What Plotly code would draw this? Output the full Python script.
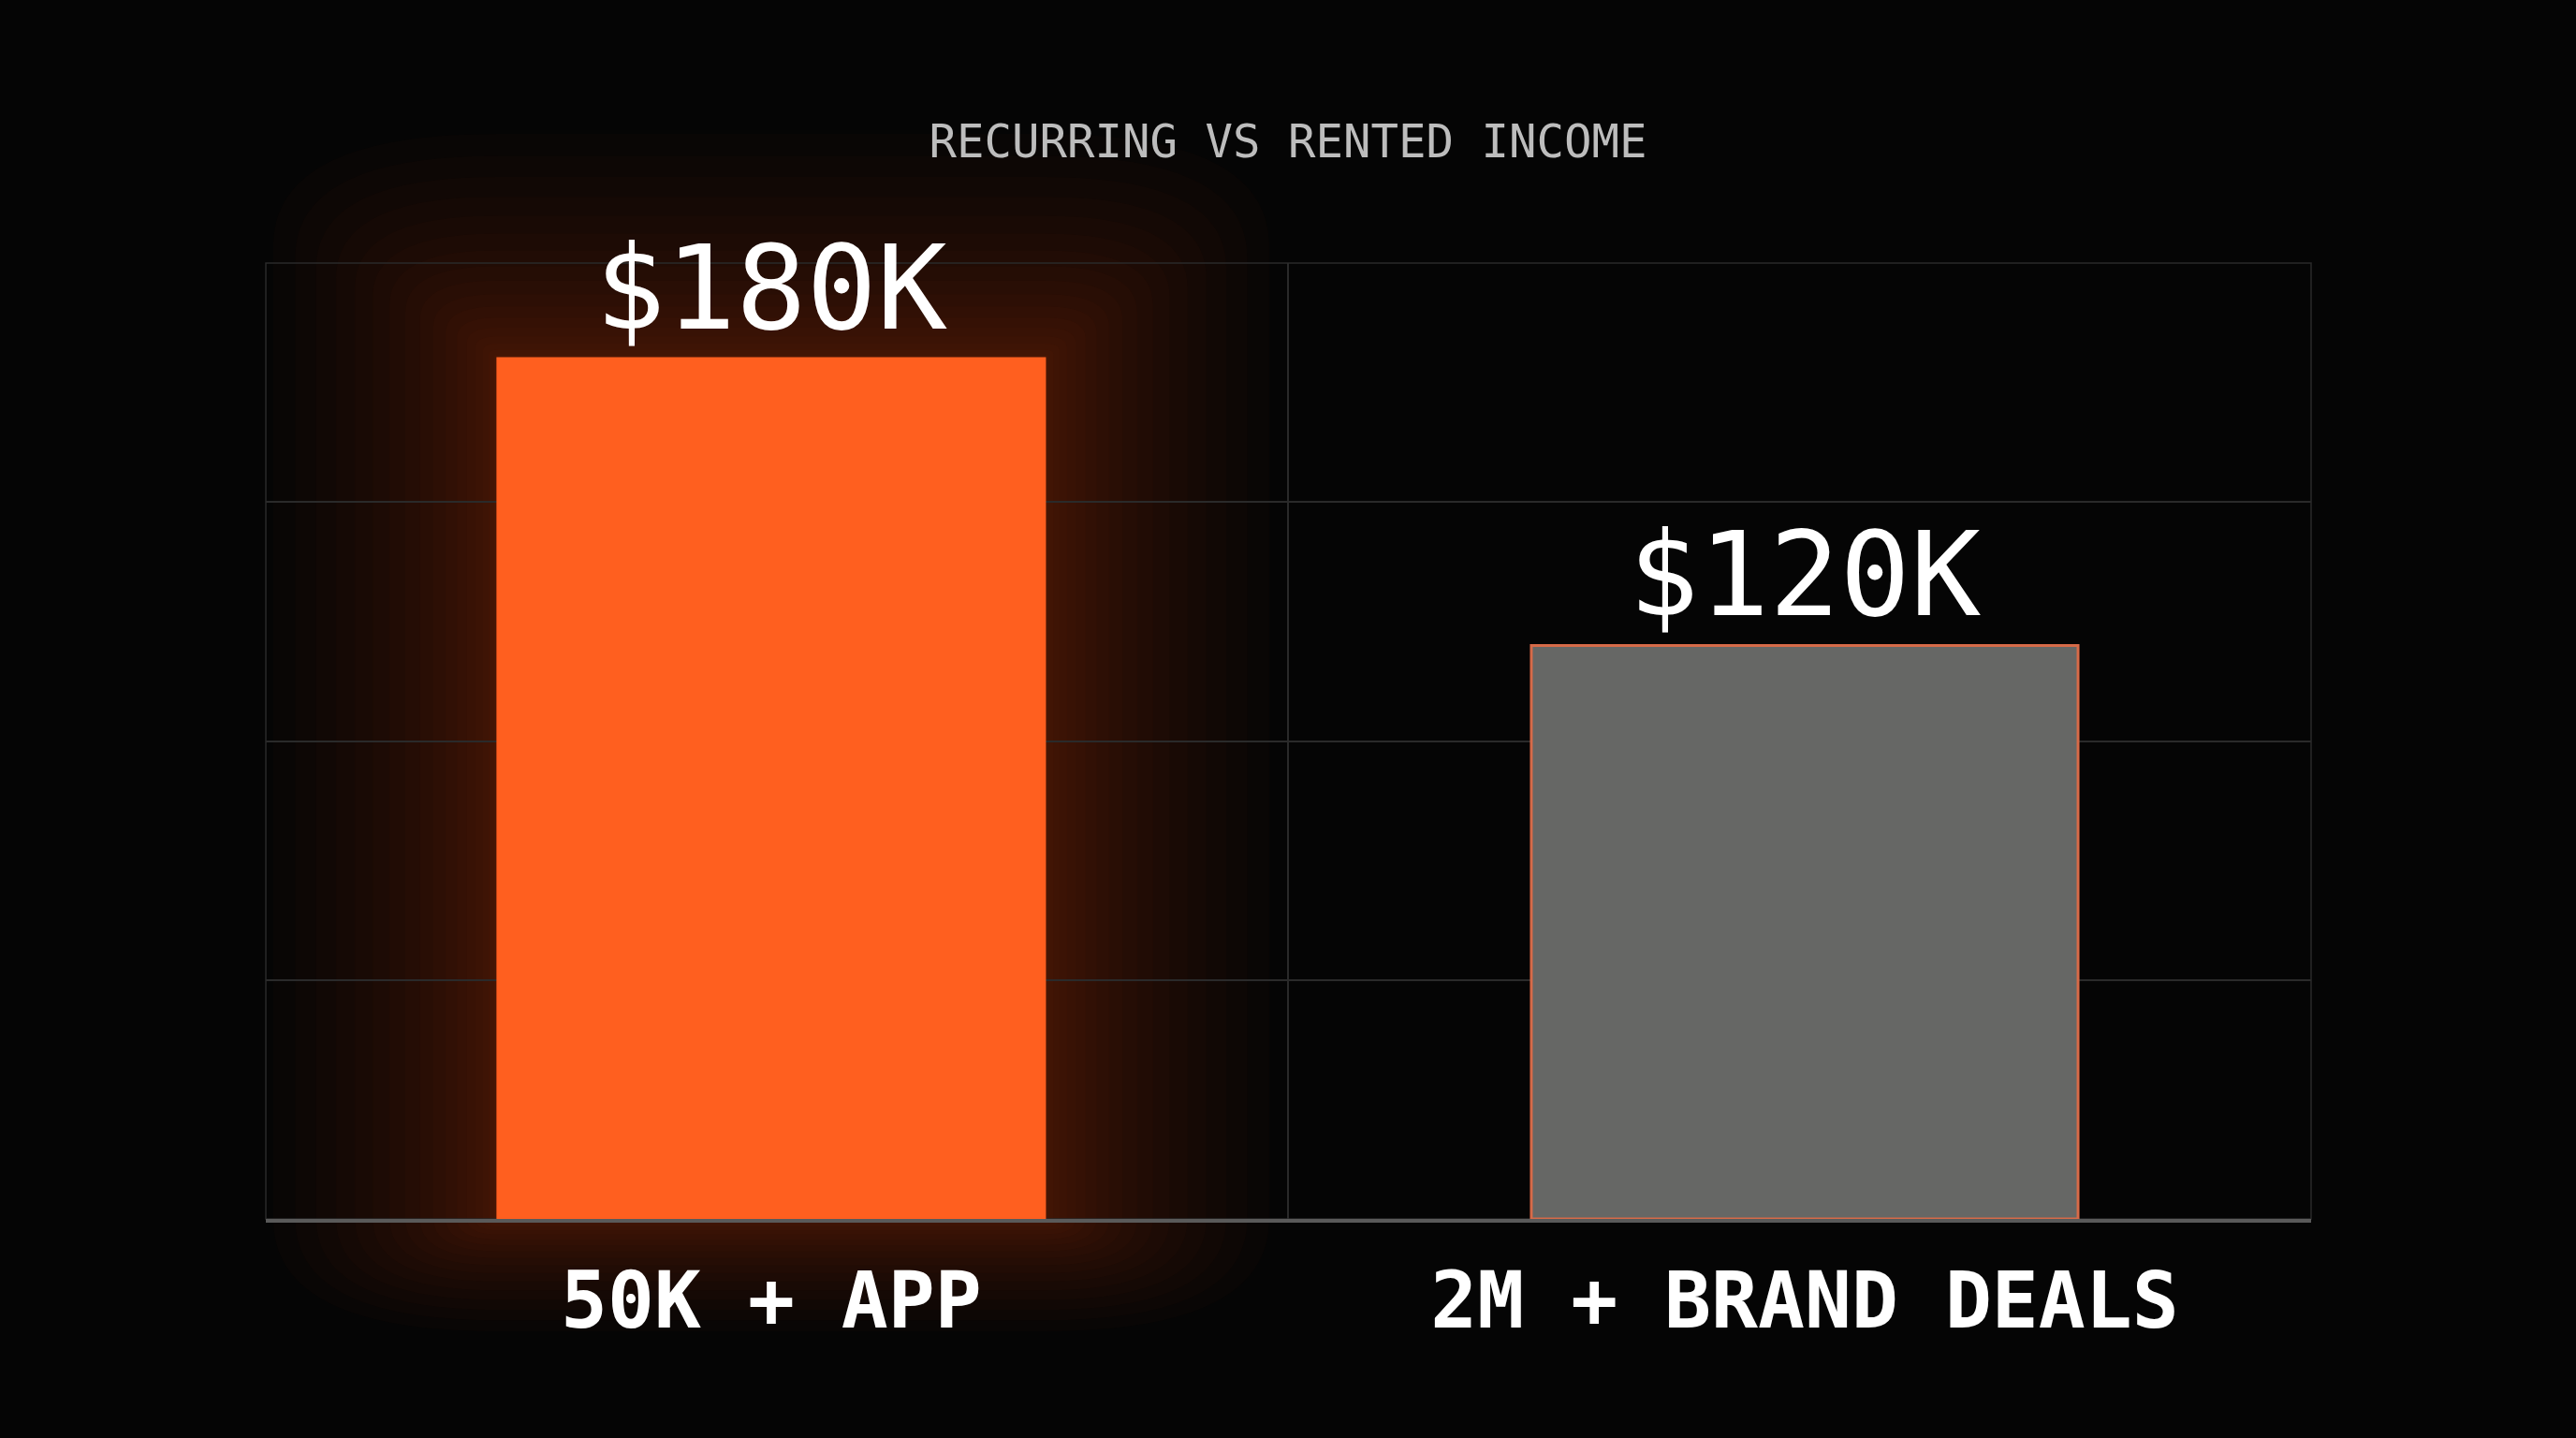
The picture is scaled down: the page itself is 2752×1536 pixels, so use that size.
import plotly.graph_objects as go

# ---- data ----
categories = ["50K + APP", "2M + BRAND DEALS"]
values_k = [180, 120]
value_labels = ["$180K", "$120K"]
bar_colors = ["#FF5F1F", "#666765"]
outline_colors = ["#FF5F1F", "#D66A48"]
title_text = "RECURRING VS RENTED INCOME"

Y_MAX = 200
X_POS = [0.5, 1.5]
X_RANGE = [0.011, 1.990]
BAR_W = 0.529

W, H = 2752, 1536
ML, MR, MT, MB = 284, 283, 281, 234
PW = W - ML - MR
PH = H - MT - MB

fig = go.Figure()
fig.add_trace(go.Bar(
    x=X_POS, y=values_k, width=BAR_W,
    marker=dict(color=bar_colors, line=dict(color=outline_colors, width=3)),
    text=value_labels, textposition="outside", cliponaxis=False,
    textfont=dict(family="DejaVu Sans Mono", size=125, color="#FFFFFF"),
    hoverinfo="skip",
))


def to_px(xv):
    return (xv - X_RANGE[0]) / (X_RANGE[1] - X_RANGE[0])


def rounded_rect(x0, y0, x1, y1, rx, ry):
    return (f"M {x0+rx},{y0} L {x1-rx},{y0} Q {x1},{y0} {x1},{y0+ry} "
            f"L {x1},{y1-ry} Q {x1},{y1} {x1-rx},{y1} "
            f"L {x0+rx},{y1} Q {x0},{y1} {x0},{y1-ry} "
            f"L {x0},{y0+ry} Q {x0},{y0} {x0+rx},{y0} Z")


# glow around the first (highlighted) bar, derived from its value
shapes = []
N = 18
gi = 0
x0 = to_px(X_POS[gi] - BAR_W / 2)
x1 = to_px(X_POS[gi] + BAR_W / 2)
ytop = values_k[gi] / Y_MAX
for i in range(N, 0, -1):
    pad = 240 * (i / N) ** 1.8
    px, py = pad / PW, pad / PH
    shapes.append(dict(
        type="path", xref="paper", yref="paper", layer="below",
        path=rounded_rect(x0 - px, 0 - py * 0.5, x1 + px, ytop + py, px, py * 0.5),
        line=dict(width=0), fillcolor="rgba(255,110,40,0.019)",
    ))

# plot frame (outer grid lines)
shapes.append(dict(type="rect", xref="paper", yref="paper", layer="below",
                   x0=0, x1=1, y0=0, y1=1, line=dict(color="#2A2A2A", width=1.5)))

fig.update_layout(
    width=W, height=H,
    margin=dict(l=ML, r=MR, t=MT, b=MB),
    paper_bgcolor="#050505", plot_bgcolor="rgba(0,0,0,0)",
    showlegend=False,
    shapes=shapes,
    title=dict(text=title_text, x=0.5, xanchor="center", y=1 - 151 / H, yanchor="middle",
               font=dict(family="DejaVu Sans Mono", size=49, color="#BDBDBD")),
    xaxis=dict(range=X_RANGE, tickvals=X_POS, ticktext=categories, showgrid=False,
               zeroline=False, showline=True, linecolor="#5A5A5A", linewidth=4,
               ticks="", ticklabelstandoff=12,
               tickfont=dict(family="DejaVu Sans Mono", size=83, color="#FFFFFF", weight="bold"),
               minor=dict(tickvals=[1], showgrid=True, gridcolor="#2A2A2A", gridwidth=1.5, ticks="")),
    yaxis=dict(range=[0, Y_MAX], tickvals=[0, 50, 100, 150, 200], showticklabels=False,
               showgrid=True, gridcolor="#2A2A2A", gridwidth=1.5, zeroline=False,
               showline=False, ticks=""),
)

fig.write_html("out.html")
